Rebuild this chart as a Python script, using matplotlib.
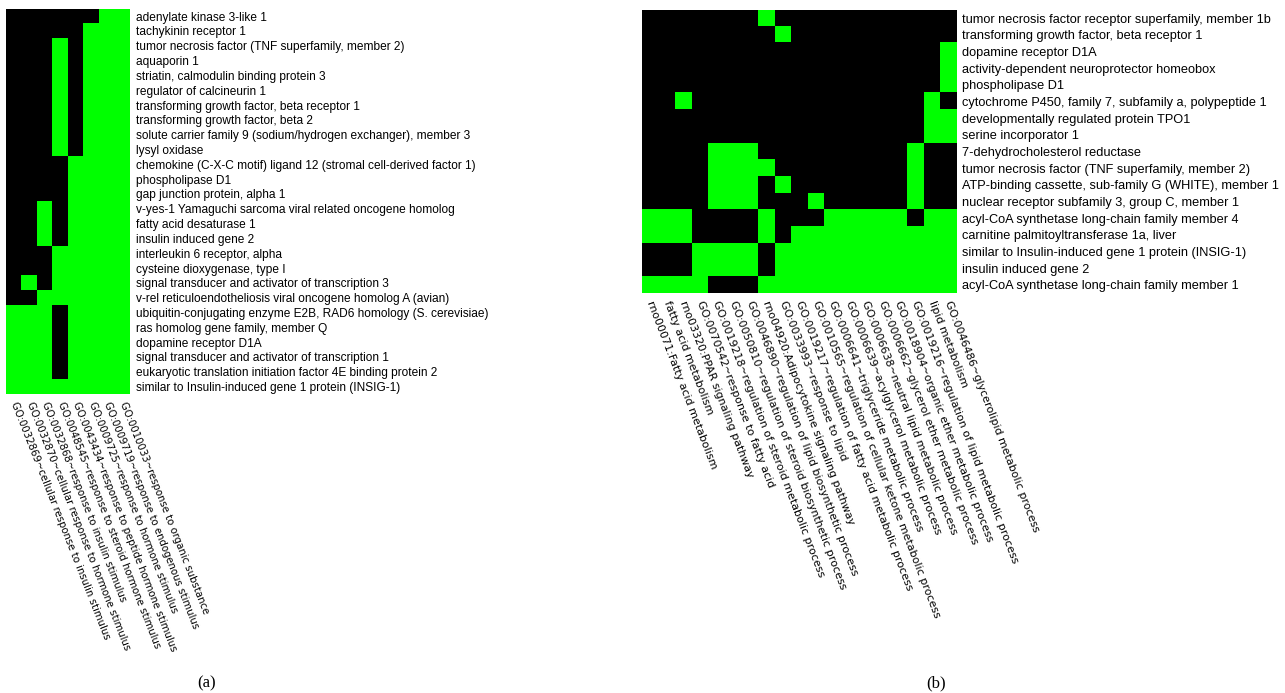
import numpy as np
import matplotlib
matplotlib.use("Agg")
import matplotlib.pyplot as plt
from matplotlib.colors import ListedColormap

# ---- panel (a) ----
genes_a = [
    "adenylate kinase 3-like 1",
    "tachykinin receptor 1",
    "tumor necrosis factor (TNF superfamily, member 2)",
    "aquaporin 1",
    "striatin, calmodulin binding protein 3",
    "regulator of calcineurin 1",
    "transforming growth factor, beta receptor 1",
    "transforming growth factor, beta 2",
    "solute carrier family 9 (sodium/hydrogen exchanger), member 3",
    "lysyl oxidase",
    "chemokine (C-X-C motif) ligand 12 (stromal cell-derived factor 1)",
    "phospholipase D1",
    "gap junction protein, alpha 1",
    "v-yes-1 Yamaguchi sarcoma viral related oncogene homolog",
    "fatty acid desaturase 1",
    "insulin induced gene 2",
    "interleukin 6 receptor, alpha",
    "cysteine dioxygenase, type I",
    "signal transducer and activator of transcription 3",
    "v-rel reticuloendotheliosis viral oncogene homolog A (avian)",
    "ubiquitin-conjugating enzyme E2B, RAD6 homology (S. cerevisiae)",
    "ras homolog gene family, member Q",
    "dopamine receptor D1A",
    "signal transducer and activator of transcription 1",
    "eukaryotic translation initiation factor 4E binding protein 2",
    "similar to Insulin-induced gene 1 protein (INSIG-1)",
]

terms_a = [
    "GO:0032869~cellular response to insulin stimulus",
    "GO:0032870~cellular response to hormone stimulus",
    "GO:0032868~response to insulin stimulus",
    "GO:0048545~response to steroid hormone stimulus",
    "GO:0043434~response to peptide hormone stimulus",
    "GO:0009725~response to hormone stimulus",
    "GO:0009719~response to endogenous stimulus",
    "GO:0010033~response to organic substance",
]

# 1 = gene annotated with term (green), 0 = not (black)
hits_a = [
    [0, 0, 0, 0, 0, 0, 1, 1],
    [0, 0, 0, 0, 0, 1, 1, 1],
    [0, 0, 0, 1, 0, 1, 1, 1],
    [0, 0, 0, 1, 0, 1, 1, 1],
    [0, 0, 0, 1, 0, 1, 1, 1],
    [0, 0, 0, 1, 0, 1, 1, 1],
    [0, 0, 0, 1, 0, 1, 1, 1],
    [0, 0, 0, 1, 0, 1, 1, 1],
    [0, 0, 0, 1, 0, 1, 1, 1],
    [0, 0, 0, 1, 0, 1, 1, 1],
    [0, 0, 0, 0, 1, 1, 1, 1],
    [0, 0, 0, 0, 1, 1, 1, 1],
    [0, 0, 0, 0, 1, 1, 1, 1],
    [0, 0, 1, 0, 1, 1, 1, 1],
    [0, 0, 1, 0, 1, 1, 1, 1],
    [0, 0, 1, 0, 1, 1, 1, 1],
    [0, 0, 0, 1, 1, 1, 1, 1],
    [0, 0, 0, 1, 1, 1, 1, 1],
    [0, 1, 0, 1, 1, 1, 1, 1],
    [0, 0, 1, 1, 1, 1, 1, 1],
    [1, 1, 1, 0, 1, 1, 1, 1],
    [1, 1, 1, 0, 1, 1, 1, 1],
    [1, 1, 1, 0, 1, 1, 1, 1],
    [1, 1, 1, 0, 1, 1, 1, 1],
    [1, 1, 1, 0, 1, 1, 1, 1],
    [1, 1, 1, 1, 1, 1, 1, 1],
]

# ---- panel (b) ----
genes_b = [
    "tumor necrosis factor receptor superfamily, member 1b",
    "transforming growth factor, beta receptor 1",
    "dopamine receptor D1A",
    "activity-dependent neuroprotector homeobox",
    "phospholipase D1",
    "cytochrome P450, family 7, subfamily a, polypeptide 1",
    "developmentally regulated protein TPO1",
    "serine incorporator 1",
    "7-dehydrocholesterol reductase",
    "tumor necrosis factor (TNF superfamily, member 2)",
    "ATP-binding cassette, sub-family G (WHITE), member 1",
    "nuclear receptor subfamily 3, group C, member 1",
    "acyl-CoA synthetase long-chain family member 4",
    "carnitine palmitoyltransferase 1a, liver",
    "similar to Insulin-induced gene 1 protein (INSIG-1)",
    "insulin induced gene 2",
    "acyl-CoA synthetase long-chain family member 1",
]

terms_b = [
    "rno00071:Fatty acid metabolism",
    "fatty acid metabolism",
    "rno03320:PPAR signaling pathway",
    "GO:0070542~response to fatty acid",
    "GO:0019218~regulation of steroid metabolic process",
    "GO:0050810~regulation of steroid biosynthetic process",
    "GO:0046890~regulation of lipid biosynthetic process",
    "rno04920:Adipocytokine signaling pathway",
    "GO:0033993~response to lipid",
    "GO:0019217~regulation of fatty acid metabolic process",
    "GO:0010565~regulation of cellular ketone metabolic process",
    "GO:0006641~triglyceride metabolic process",
    "GO:0006639~acylglycerol metabolic process",
    "GO:0006638~neutral lipid metabolic process",
    "GO:0006662~glycerol ether metabolic process",
    "GO:0018904~organic ether metabolic process",
    "GO:0019216~regulation of lipid metabolic process",
    "lipid metabolism",
    "GO:0046486~glycerolipid metabolic process",
]

hits_b = [
    [0, 0, 0, 0, 0, 0, 0, 1, 0, 0, 0, 0, 0, 0, 0, 0, 0, 0, 0],
    [0, 0, 0, 0, 0, 0, 0, 0, 1, 0, 0, 0, 0, 0, 0, 0, 0, 0, 0],
    [0, 0, 0, 0, 0, 0, 0, 0, 0, 0, 0, 0, 0, 0, 0, 0, 0, 0, 1],
    [0, 0, 0, 0, 0, 0, 0, 0, 0, 0, 0, 0, 0, 0, 0, 0, 0, 0, 1],
    [0, 0, 0, 0, 0, 0, 0, 0, 0, 0, 0, 0, 0, 0, 0, 0, 0, 0, 1],
    [0, 0, 1, 0, 0, 0, 0, 0, 0, 0, 0, 0, 0, 0, 0, 0, 0, 1, 0],
    [0, 0, 0, 0, 0, 0, 0, 0, 0, 0, 0, 0, 0, 0, 0, 0, 0, 1, 1],
    [0, 0, 0, 0, 0, 0, 0, 0, 0, 0, 0, 0, 0, 0, 0, 0, 0, 1, 1],
    [0, 0, 0, 0, 1, 1, 1, 0, 0, 0, 0, 0, 0, 0, 0, 0, 1, 0, 0],
    [0, 0, 0, 0, 1, 1, 1, 1, 0, 0, 0, 0, 0, 0, 0, 0, 1, 0, 0],
    [0, 0, 0, 0, 1, 1, 1, 0, 1, 0, 0, 0, 0, 0, 0, 0, 1, 0, 0],
    [0, 0, 0, 0, 1, 1, 1, 0, 0, 0, 1, 0, 0, 0, 0, 0, 1, 0, 0],
    [1, 1, 1, 0, 0, 0, 0, 1, 0, 0, 0, 1, 1, 1, 1, 1, 0, 1, 1],
    [1, 1, 1, 0, 0, 0, 0, 1, 0, 1, 1, 1, 1, 1, 1, 1, 1, 1, 1],
    [0, 0, 0, 1, 1, 1, 1, 0, 1, 1, 1, 1, 1, 1, 1, 1, 1, 1, 1],
    [0, 0, 0, 1, 1, 1, 1, 0, 1, 1, 1, 1, 1, 1, 1, 1, 1, 1, 1],
    [1, 1, 1, 1, 0, 0, 0, 1, 1, 1, 1, 1, 1, 1, 1, 1, 1, 1, 1],
]

cmap = ListedColormap(["#000000", "#00ff00"])
W, H = 1285, 693
fig = plt.figure(figsize=(W / 100, H / 100), dpi=100)


def heat(box, hits, genes, terms, gene_fs, term_fs, rot):
    x0, y0, x1, y1 = box  # pixel box of the grid, y from top
    ax = fig.add_axes([x0 / W, 1 - y1 / H, (x1 - x0) / W, (y1 - y0) / H])
    ax.imshow(np.array(hits), cmap=cmap, vmin=0, vmax=1,
              aspect="auto", interpolation="nearest")
    ax.set_yticks(range(len(genes)))
    ax.set_yticklabels(genes, fontsize=gene_fs, family="Liberation Sans")
    ax.yaxis.tick_right()
    ax.set_xticks(range(len(terms)))
    ax.set_xticklabels(terms, fontsize=term_fs, family="DejaVu Sans",
                       rotation=rot, ha="left", va="center",
                       rotation_mode="anchor")
    ax.tick_params(axis="y", length=0, pad=4.3)
    ax.tick_params(axis="x", length=0, pad=6)
    for s in ax.spines.values():
        s.set_visible(False)
    return ax


heat((6, 8.7, 130, 394), hits_a, genes_a, terms_a, 8.6, 7.3, -68.5)
heat((641.7, 10, 956, 293.3), hits_b, genes_b, terms_b, 9.2, 7.9, -69)

fig.text(207 / W, 1 - 683 / H, "(a)", family="Liberation Serif",
         fontsize=12, ha="center", va="center")
fig.text(936 / W, 1 - 683 / H, "(b)", family="Liberation Serif",
         fontsize=12, ha="center", va="center")

fig.savefig("out.png", dpi=100)
